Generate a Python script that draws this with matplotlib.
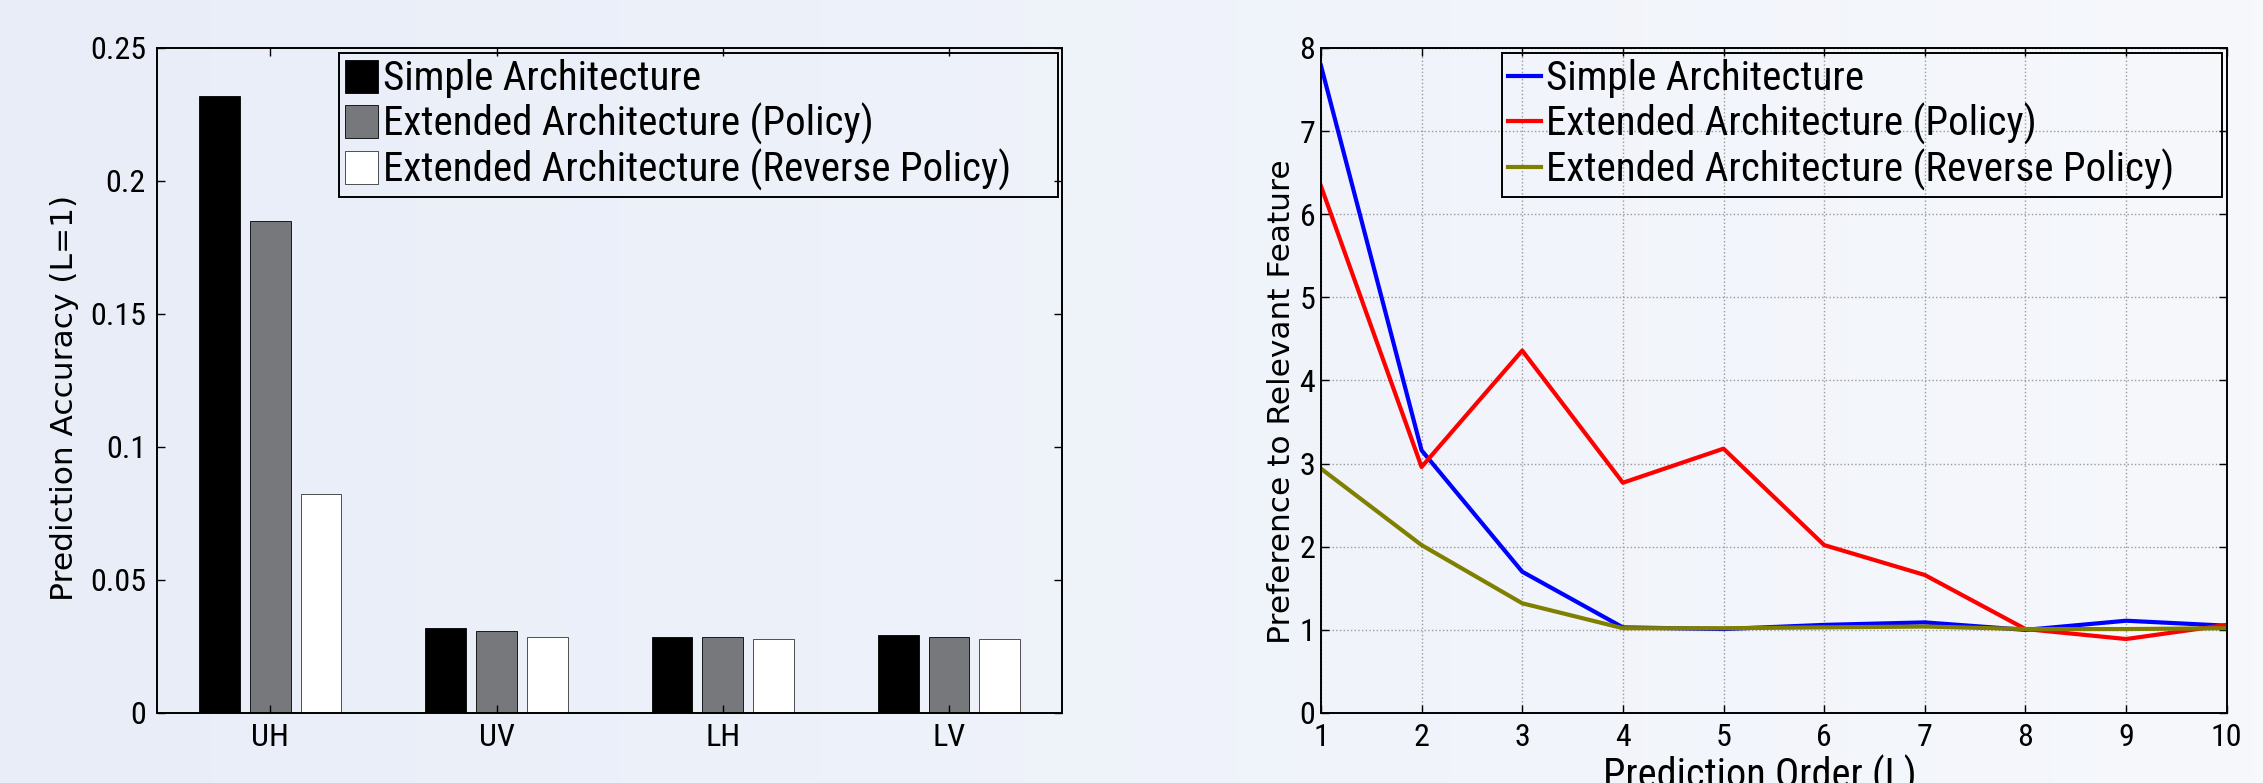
import numpy as np
import matplotlib
matplotlib.use('Agg')
import matplotlib.pyplot as plt
from matplotlib import font_manager
from matplotlib.colors import LinearSegmentedColormap

# bar chart data (prediction accuracy at L=1)
groups = ['UH', 'UV', 'LH', 'LV']
simple_acc = [0.232, 0.032, 0.0287, 0.0294]
policy_acc = [0.185, 0.031, 0.0287, 0.0285]
reverse_acc = [0.0823, 0.0285, 0.028, 0.028]

# line chart data (preference to relevant feature)
order = [1, 2, 3, 4, 5, 6, 7, 8, 9, 10]
simple_pref = [7.79, 3.16, 1.70, 1.03, 1.01, 1.06, 1.09, 1.00, 1.11, 1.05]
policy_pref = [6.34, 2.96, 4.36, 2.77, 3.18, 2.02, 1.66, 1.01, 0.89, 1.06]
reverse_pref = [2.94, 2.02, 1.32, 1.02, 1.02, 1.03, 1.04, 1.01, 1.01, 1.02]

labels = ['Simple Architecture', 'Extended Architecture (Policy)',
          'Extended Architecture (Reverse Policy)']

# pick a condensed font close to Myriad Condensed
installed = {f.name for f in font_manager.fontManager.ttflist}
narrow = 'DejaVu Sans'
for name in ['Roboto Condensed', 'Fira Sans Condensed', 'PT Sans Narrow',
             'Archivo Narrow', 'Liberation Sans Narrow']:
    if name in installed:
        narrow = name
        break
wide = 'DejaVu Sans'

fig = plt.figure(figsize=(22.63, 7.83), dpi=100)

# soft blue background gradient
bg = fig.add_axes([0, 0, 1, 1], zorder=-10)
cmap = LinearSegmentedColormap.from_list('bg', ['#e8edf8', '#f6f8fc'])
bg.imshow(np.linspace(0, 1, 256).reshape(1, -1), aspect='auto', cmap=cmap,
          extent=[0, 1, 0, 1])
bg.axis('off')


def style_axes(ax, ypad):
    ax.set_facecolor('none')
    for s in ax.spines.values():
        s.set_linewidth(1.4)
    ax.tick_params(direction='in', length=6, width=1, top=True, right=True,
                   labelsize=23)
    ax.tick_params(axis='x', pad=7)
    ax.tick_params(axis='y', pad=ypad)
    for t in ax.get_xticklabels() + ax.get_yticklabels():
        t.set_family(narrow)


def add_legend(ax, x0, **kw):
    # MATLAB-style box: wider than its text, square corners
    leg = ax.legend(loc='upper left', bbox_to_anchor=(x0, 0.0, 0.995 - x0, 0.992),
                    mode='expand', borderaxespad=0, fancybox=False,
                    edgecolor='black', facecolor='none', framealpha=1,
                    prop={'family': narrow, 'size': 29.5}, handletextpad=0.13,
                    labelspacing=0.1, borderpad=0.15, **kw)
    leg.get_frame().set_linewidth(1.4)
    return leg


# left: grouped bars
ax1 = fig.add_axes([0.0694, 0.0894, 0.4000, 0.8493])
x = np.arange(1, len(groups) + 1)
w = 0.18
off = 0.224
ax1.bar(x - off, simple_acc, w, color='black', edgecolor='black', lw=0.6,
        label=labels[0])
ax1.bar(x, policy_acc, w, color='#76787b', edgecolor='black', lw=0.6,
        label=labels[1])
ax1.bar(x + off, reverse_acc, w, color='white', edgecolor='#333333', lw=0.6,
        label=labels[2])
ax1.set_xlim(0.5, 4.5)
ax1.set_ylim(0, 0.25)
ax1.set_xticks(x)
ax1.set_xticklabels(groups)
ax1.set_yticks([0, 0.05, 0.1, 0.15, 0.2, 0.25])
ax1.set_yticklabels(['0', '0.05', '0.1', '0.15', '0.2', '0.25'])
style_axes(ax1, 8)
ax1.set_ylabel('Prediction Accuracy (L=1)', family=wide, fontsize=22.5)
ax1.yaxis.set_label_coords(-0.086, 0.474)
add_legend(ax1, 0.201, handlelength=0.8, handleheight=0.85)

# right: preference lines
ax2 = fig.add_axes([0.5837, 0.0894, 0.4003, 0.8493])
ax2.grid(True, linestyle=':', color='#9a9a9a', lw=1)
ax2.set_axisbelow(True)
ax2.plot(order, simple_pref, color='#0000ff', lw=3, label=labels[0])
ax2.plot(order, policy_pref, color='#ff0000', lw=3, label=labels[1])
ax2.plot(order, reverse_pref, color='#808000', lw=3, label=labels[2])
ax2.set_xlim(1, 10)
ax2.set_ylim(0, 8)
ax2.set_xticks(order)
ax2.set_yticks(range(9))
style_axes(ax2, 4)
ax2.set_ylabel('Preference to Relevant Feature', family=wide, fontsize=22.5)
ax2.yaxis.set_label_coords(-0.028, 0.468)
ax2.set_xlabel('Prediction Order (L)', family=narrow, fontsize=29)
ax2.xaxis.set_label_coords(0.485, -0.063)
ax2.xaxis.label.set_va('top')
add_legend(ax2, 0.200, handlelength=0.8)

plt.savefig('out.png', dpi=100)
